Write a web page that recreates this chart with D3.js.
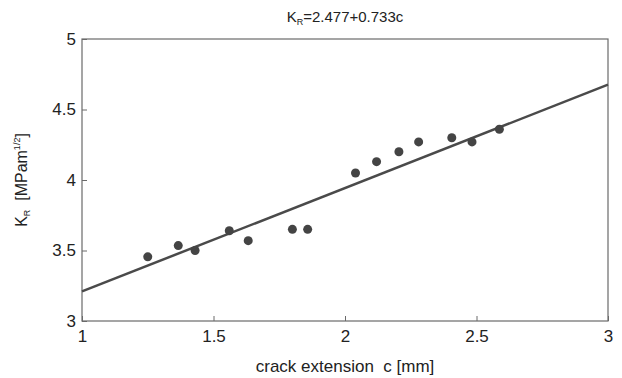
<!DOCTYPE html>
<html>
<head>
  <meta charset="utf-8">
  <title>K_R vs crack extension</title>
  <style>
    body { margin: 0; background: #fff; }
    svg { font-family: "Liberation Sans", Arial, sans-serif; }
    .axis path, .axis line { stroke: #6a6a6a; }
    .axis text { font-size: 17px; fill: #222; }
  </style>
</head>
<body>
  <svg width="622" height="378"></svg>
  <script src="https://d3js.org/d3.v7.min.js"></script>
  <script>
    // measured points (crack extension c [mm], K_R [MPa m^1/2])
    var crackExt = [1.25, 1.366, 1.43, 1.56, 1.632, 1.80, 1.858, 2.04, 2.12, 2.205, 2.28, 2.406, 2.483, 2.587];
    var kr       = [3.455, 3.535, 3.50, 3.64, 3.57, 3.65, 3.65, 4.05, 4.13, 4.20, 4.27, 4.30, 4.27, 4.36];

    // fit K_R = a + b c
    var fitA = 2.477;
    var fitB = 0.733;

    var xTicks = [1, 1.5, 2, 2.5, 3];
    var yTicks = [3, 3.5, 4, 4.5, 5];

    var svg = d3.select('svg');
    // plot box (note: "top" is reserved on window, so use other names)
    var plotL = 82, plotR = 608, plotT = 39, plotB = 321;

    var x = d3.scaleLinear().domain([1, 3]).range([plotL, plotR]);
    var y = d3.scaleLinear().domain([3, 5]).range([plotB, plotT]);

    // frame
    svg.append('rect')
      .attr('x', plotL).attr('y', plotT)
      .attr('width', plotR - plotL).attr('height', plotB - plotT)
      .attr('fill', 'none').attr('stroke', '#6a6a6a').attr('stroke-width', 1.2);

    // axes with inward ticks
    var xAxis = svg.append('g')
      .attr('class', 'axis')
      .attr('transform', 'translate(0,' + plotB + ')')
      .call(d3.axisBottom(x).tickValues(xTicks).tickFormat(d3.format('')).tickSizeInner(-5).tickSizeOuter(0));
    xAxis.select('.domain').remove();
    xAxis.selectAll('text').attr('y', 9);

    var yAxis = svg.append('g')
      .attr('class', 'axis')
      .attr('transform', 'translate(' + plotL + ',0)')
      .call(d3.axisLeft(y).tickValues(yTicks).tickFormat(d3.format('')).tickSizeInner(-5).tickSizeOuter(0));
    yAxis.select('.domain').remove();
    yAxis.selectAll('text').attr('x', -6);

    // regression line
    svg.append('line')
      .attr('x1', x(1)).attr('y1', y(fitA + fitB * 1))
      .attr('x2', x(3)).attr('y2', y(fitA + fitB * 3))
      .attr('stroke', '#4a4a4a').attr('stroke-width', 2.5);

    // points
    svg.selectAll('circle.pt')
      .data(crackExt)
      .enter().append('circle')
      .attr('class', 'pt')
      .attr('cx', function(d) { return x(d); })
      .attr('cy', function(d, i) { return y(kr[i]); })
      .attr('r', 4.5)
      .attr('fill', '#444');

    // title
    var title = svg.append('text')
      .attr('x', x(2)).attr('y', 22)
      .attr('text-anchor', 'middle')
      .attr('font-size', 15).attr('fill', '#222');
    title.append('tspan').text('K');
    title.append('tspan').attr('font-size', 9).attr('dy', 3).text('R');
    title.append('tspan').attr('dy', -3).text('=2.477+0.733c');

    // x label
    svg.append('text')
      .attr('x', x(2)).attr('y', 372)
      .attr('text-anchor', 'middle')
      .attr('font-size', 17).attr('fill', '#222')
      .attr('xml:space', 'preserve')
      .text('crack extension  c [mm]');

    // y label
    var yl = svg.append('text')
      .attr('transform', 'translate(27,' + y(4) + ') rotate(-90)')
      .attr('text-anchor', 'middle')
      .attr('font-size', 16).attr('fill', '#222')
      .attr('xml:space', 'preserve');
    yl.append('tspan').text('K');
    yl.append('tspan').attr('font-size', 9).attr('dy', 3).text('R');
    yl.append('tspan').attr('dy', -3).text('  [MPam');
    yl.append('tspan').attr('font-size', 9).attr('dy', -7).text('1/2');
    yl.append('tspan').attr('dy', 7).text(']');
  </script>
</body>
</html>
